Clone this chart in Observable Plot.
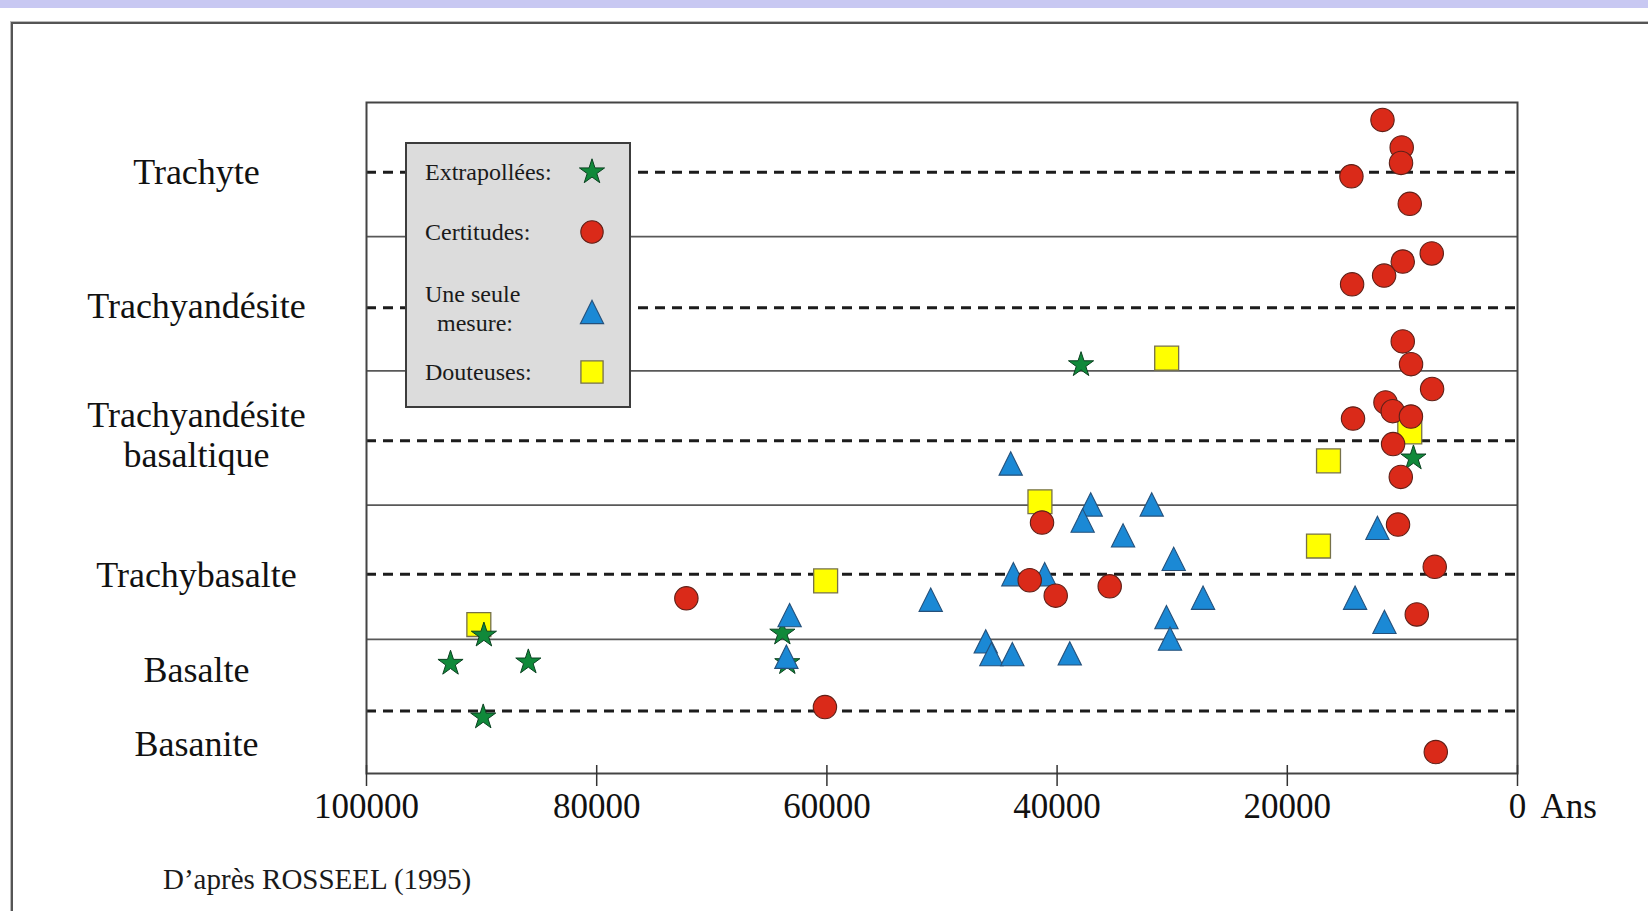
<!DOCTYPE html>
<html lang="fr">
<head>
<meta charset="utf-8">
<script src="https://cdn.jsdelivr.net/npm/d3@7"></script>
<script src="https://cdn.jsdelivr.net/npm/@observablehq/plot@0.6"></script>
<style>
  html, body { margin: 0; padding: 0; background: #fff; }
  #page { position: relative; width: 1648px; height: 911px; overflow: hidden; background: #fff;
          font-family: "Liberation Serif", "Times New Roman", serif; color: #1a1a1a; }
  #topband { position: absolute; left: 0; top: 0; width: 1648px; height: 8px; background: #c8c8f2; }
  #border { position: absolute; left: 11px; top: 22px; width: 1700px; height: 1000px;
            border-left: 2px solid #555; border-top: 2px solid #555; box-shadow: -1px -1px 0 #bbb; }
  #chart { position: absolute; left: 0; top: 0; }
  #legend { position: absolute; left: 0; top: 0; }
  #caption { position: absolute; left: 163px; top: 863px; font-size: 29px; line-height: 32px; white-space: nowrap; }
</style>
</head>
<body>
<div id="page">
  <div id="topband"></div>
  <div id="border"></div>
  <div id="chart"></div>
  <svg id="legend" width="1648" height="911"></svg>
  <div id="caption"></div>
</div>
<script>
// ---- Data: [âge (ans), niveau vertical sur l'échelle des roches] ----
const certitudes = [
  [11730, 9.74], [10060, 9.33], [10120, 9.10], [14430, 8.90], [9360, 8.49],
  [7450, 7.75], [9970, 7.63], [11590, 7.42], [14370, 7.29],
  [9970, 6.44], [9250, 6.10], [7420, 5.73], [11470, 5.53], [10840, 5.40], [9260, 5.32], [14290, 5.29],
  [10810, 4.91], [10140, 4.42],
  [10380, 3.71], [7190, 3.08], [8750, 2.37], [7100, 0.32],
  [41310, 3.74], [42380, 2.88], [40120, 2.65], [35430, 2.79],
  [72210, 2.61], [60170, 0.99]
];
const uneSeuleMesure = [
  [12170, 3.66], [14110, 2.62], [11560, 2.26],
  [44030, 4.62], [37080, 4.01], [37780, 3.77], [31780, 4.01], [34270, 3.55], [29870, 3.20],
  [43800, 2.97], [41080, 2.97], [50980, 2.59], [27320, 2.62], [30500, 2.33], [30190, 2.01],
  [46200, 1.97], [45710, 1.78], [43890, 1.78], [38900, 1.79],
  [63240, 2.36], [63520, 1.74]
];
const extrapolees = [
  [37920, 6.09], [9040, 4.70], [63870, 2.09], [63440, 1.65],
  [89800, 2.06], [92700, 1.64], [85940, 1.66], [89860, 0.84]
];
const douteuses = [
  [30480, 6.19], [41490, 4.05], [9360, 5.09], [16420, 4.66], [17290, 3.39], [60110, 2.87], [90240, 2.22]
];

// Rock types (y labels) and their levels
const rockTypes  = ["Trachyte", "Trachyandésite", "Trachyandésite\nbasaltique", "Trachybasalte", "Basalte", "Basanite"];
const rockLevels = [8.98, 6.98, 5.05, 2.97, 1.56, 0.45];
// Separation lines
const dashedLevels = [8.96, 6.94, 4.96, 2.97, 0.93];
const solidLevels  = [8, 6, 4, 2];
// X ticks
const xTicks = [100000, 80000, 60000, 40000, 20000, 0];
const unitLabel = "Ans";
const caption = "D’après ROSSEEL (1995)";

// Legend entries
const legendLabels = ["Extrapollées:", "Certitudes:", "Une seule\n mesure:", "Douteuses:"];

// custom isosceles triangle (as wide as tall)
const triangleTall = {
  draw(context, size) {
    const w = Math.sqrt(2 * size), h = w;
    context.moveTo(0, -h / 2);
    context.lineTo(w / 2, h / 2);
    context.lineTo(-w / 2, h / 2);
    context.closePath();
  }
};

const FONT = "Liberation Serif, Times New Roman, serif";
const styles = {
  douteuses:  {fill: "#ffff00", stroke: "#76714a", strokeWidth: 1.3},
  extrap:     {fill: "#10893a", stroke: "#0b4221", strokeWidth: 1},
  seule:      {fill: "#1b89d5", stroke: "#25507a", strokeWidth: 1.1},
  cert:       {fill: "#da2a19", stroke: "#5e2018", strokeWidth: 1.1}
};

const chart = Plot.plot({
  width: 1648,
  height: 911,
  marginLeft: 366,
  marginRight: 131,
  marginTop: 102,
  marginBottom: 138,
  style: {background: "transparent", fontFamily: FONT, overflow: "visible"},
  x: {domain: [100000, 0]},
  y: {domain: [0, 10], axis: null},
  marks: [
    Plot.ruleY(solidLevels, {stroke: "#585858", strokeWidth: 1.7}),
    Plot.ruleY(dashedLevels, {stroke: "#1c1c1c", strokeWidth: 3, strokeDasharray: "10,7"}),
    Plot.frame({stroke: "#444", strokeWidth: 2}),
    Plot.axisX(xTicks, {tickSize: -8, tickFormat: () => "", stroke: "#333", strokeWidth: 1.5}),
    Plot.axisX(xTicks, {tickSize: 13, tickPadding: 7, fontSize: 35, stroke: "#333", strokeWidth: 1.5,
                        color: "#111", textStroke: "none", tickFormat: d => String(d), label: null}),
    Plot.text([xTicks[xTicks.length - 1]], {x: d => d, text: () => unitLabel, frameAnchor: "bottom",
                            textAnchor: "start", lineAnchor: "top", dy: 20, dx: 23, fontSize: 35, fill: "#111"}),
    Plot.text(rockTypes, {y: (d, i) => rockLevels[i], text: d => d, frameAnchor: "left", dx: -170,
                          textAnchor: "middle", fontSize: 36, lineHeight: 1.11, fill: "#111"}),
    Plot.dot(douteuses, {x: d => d[0], y: d => d[1], symbol: "square", r: 13.5, ...styles.douteuses}),
    Plot.dot(extrapolees, {x: d => d[0], y: d => d[1], symbol: "star", r: 7.9, ...styles.extrap}),
    Plot.dot(uneSeuleMesure, {x: d => d[0], y: d => d[1], symbol: triangleTall, r: 9.3, ...styles.seule}),
    Plot.dot(certitudes, {x: d => d[0], y: d => d[1], symbol: "circle", r: 11.7, ...styles.cert})
  ]
});
document.getElementById("chart").appendChild(chart);
document.getElementById("caption").textContent = caption;

// ---- Legend box ----
const lg = d3.select("#legend");
const box = {x: 406, y: 143, w: 224, h: 264};
lg.append("rect").attr("x", box.x).attr("y", box.y).attr("width", box.w).attr("height", box.h)
  .attr("fill", "#dcdcdc").attr("stroke", "#3c3c3c").attr("stroke-width", 2);
const legendSymbols = [
  {sym: d3.symbolStar, r: 7.9, st: styles.extrap},
  {sym: d3.symbolCircle, r: 11.2, st: styles.cert},
  {sym: triangleTall, r: 9.3, st: styles.seule},
  {sym: d3.symbolSquare, r: 12.5, st: styles.douteuses}
];
const rowY = [29, 89, 169, 229];
legendLabels.forEach((lab, i) => {
  const lines = lab.split("\n");
  const t = lg.append("text").attr("font-family", FONT).attr("font-size", 24).attr("fill", "#1a1a1a");
  if (lines.length === 1) {
    t.append("tspan").attr("x", box.x + 19).attr("y", box.y + rowY[i]).attr("dy", "0.33em").text(lines[0]);
  } else {
    t.append("tspan").attr("x", box.x + 19).attr("y", box.y + 151).attr("dy", "0.33em").text(lines[0]);
    t.append("tspan").attr("x", box.x + 31).attr("y", box.y + 180).attr("dy", "0.33em").text(lines[1].trim());
  }
  const s = legendSymbols[i];
  lg.append("path")
    .attr("transform", `translate(${box.x + 186},${box.y + rowY[i]})`)
    .attr("d", d3.symbol(s.sym, Math.PI * s.r * s.r)())
    .attr("fill", s.st.fill).attr("stroke", s.st.stroke).attr("stroke-width", s.st.strokeWidth);
});
</script>
</body>
</html>
